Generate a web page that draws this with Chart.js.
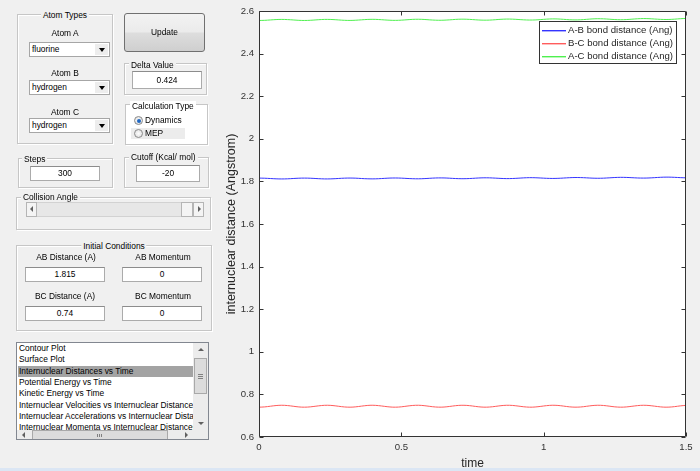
<!DOCTYPE html>
<html>
<head>
<meta charset="utf-8">
<script src="https://cdn.jsdelivr.net/npm/chart.js@4/dist/chart.umd.min.js"></script>
<style>
  html,body{margin:0;padding:0;}
  body{width:700px;height:471px;overflow:hidden;background:#f0f0f0;position:relative;
       font-family:"Liberation Sans",Arial,sans-serif;font-size:8.4px;color:#000;}
  #c{position:absolute;left:0;top:0;}
  .panel{position:absolute;border:1px solid #c6c6c6;box-shadow:inset 1px 1px 0 #fff,1px 1px 0 #fff;box-sizing:border-box;}
  .pt{position:absolute;top:-6px;line-height:11px;background:#f0f0f0;padding:0 2px;white-space:nowrap;}
  .ptc{left:50%;transform:translateX(-50%);}
  .lbl{position:absolute;line-height:11px;white-space:nowrap;transform:translateX(-50%);}
  .edit{position:absolute;background:#fff;border:1px solid #ababab;border-top-color:#8c8c8c;box-sizing:border-box;
        text-align:center;white-space:nowrap;}
  .dd{position:absolute;background:#fff;border:1px solid #a6a6a6;box-sizing:border-box;white-space:nowrap;padding-left:2px;}
  .dd .arr{position:absolute;right:1px;top:1px;bottom:1px;width:13px;background:#ededed;}
  .tri-d{position:absolute;width:0;height:0;border-left:3px solid transparent;border-right:3px solid transparent;border-top:4px solid #000;}
  .tri-u{position:absolute;width:0;height:0;border-left:3px solid transparent;border-right:3px solid transparent;border-bottom:3px solid #606060;}
  .tri-l{position:absolute;width:0;height:0;border-top:3px solid transparent;border-bottom:3px solid transparent;border-right:3px solid #606060;}
  .tri-r{position:absolute;width:0;height:0;border-top:3px solid transparent;border-bottom:3px solid transparent;border-left:3px solid #606060;}
  .btn{position:absolute;border:1px solid #707070;border-radius:3px;box-sizing:border-box;
       background:linear-gradient(#f2f2f2,#ebebeb 48%,#dddddd 52%,#cfcfcf);text-align:center;}
  .radio{position:absolute;width:9px;height:9px;border-radius:50%;border:1px solid #8a8a8a;box-sizing:border-box;
         background:radial-gradient(#fdfdfd,#dcdcdc);}
  .dot{position:absolute;left:1.5px;top:1.5px;width:4px;height:4px;border-radius:50%;background:#1f67c2;}
  .list{position:absolute;background:#fff;border:1px solid #828790;box-sizing:border-box;overflow:hidden;}
  .item{position:absolute;left:1px;height:11.3px;line-height:11.3px;white-space:nowrap;padding-left:1px;width:175px;overflow:hidden;}
  .sel{background:#a3a3a3;}
</style>
</head>
<body>
<canvas id="c" width="700" height="471"></canvas>

<!-- Atom Types -->
<div class="panel" style="left:17px;top:14px;width:96px;height:130px;"><span class="pt ptc" style="top:-5px;">Atom Types</span></div>
<div class="lbl" style="left:65px;top:28px;">Atom A</div>
<div class="dd" style="left:29px;top:42px;width:81px;height:15px;line-height:13px;">fluorine<div class="arr"><div class="tri-d" style="left:4px;top:4px;"></div></div></div>
<div class="lbl" style="left:65px;top:68px;">Atom B</div>
<div class="dd" style="left:29px;top:80px;width:81px;height:15px;line-height:13px;">hydrogen<div class="arr"><div class="tri-d" style="left:4px;top:4px;"></div></div></div>
<div class="lbl" style="left:65px;top:107px;">Atom C</div>
<div class="dd" style="left:29px;top:118px;width:81px;height:15px;line-height:13px;">hydrogen<div class="arr"><div class="tri-d" style="left:4px;top:4px;"></div></div></div>

<!-- Update -->
<div class="btn" style="left:124px;top:13px;width:81px;height:39px;line-height:37px;">Update</div>

<!-- Delta Value -->
<div class="panel" style="left:124px;top:63px;width:83px;height:32px;"><span class="pt" style="left:4px;top:-4px;">Delta Value</span></div>
<div class="edit" style="left:132px;top:71px;width:70px;height:18px;line-height:16px;">0.424</div>

<!-- Calculation Type -->
<div class="panel" style="left:125px;top:104px;width:83px;height:41px;background:#fff;"><span class="pt" style="left:4px;top:-4px;background:#fff;">Calculation Type</span></div>
<div class="radio" style="left:134px;top:116px;"><div class="dot"></div></div>
<div style="position:absolute;left:145px;top:115px;line-height:11px;">Dynamics</div>
<div style="position:absolute;left:131px;top:128px;width:54px;height:11px;background:#ececec;"></div>
<div class="radio" style="left:134px;top:129px;"></div>
<div style="position:absolute;left:145px;top:128px;line-height:11px;">MEP</div>

<!-- Steps -->
<div class="panel" style="left:18px;top:158px;width:95px;height:30px;"><span class="pt" style="left:3px;top:-5px;">Steps</span></div>
<div class="edit" style="left:30px;top:166px;width:70px;height:15px;line-height:13px;">300</div>

<!-- Cutoff -->
<div class="panel" style="left:124px;top:157px;width:85px;height:31px;"><span class="pt" style="left:4px;top:-6px;">Cutoff (Kcal/ mol)</span></div>
<div class="edit" style="left:136px;top:165px;width:64px;height:17px;line-height:15px;">-20</div>

<!-- Collision Angle -->
<div class="panel" style="left:16px;top:197px;width:195px;height:33px;"><span class="pt" style="left:4px;top:-6px;">Collision Angle</span></div>
<div style="position:absolute;left:26px;top:202px;width:178px;height:15px;background:#e7e7e7;border:1px solid #d2d2d2;box-sizing:border-box;"></div>
<div style="position:absolute;left:26px;top:202px;width:11px;height:15px;background:#f4f4f4;border:1px solid #b5b5b5;box-sizing:border-box;"><div class="tri-l" style="left:3px;top:3px;"></div></div>
<div style="position:absolute;left:181px;top:202px;width:12px;height:15px;background:#f4f4f4;border:1px solid #b5b5b5;box-sizing:border-box;"></div>
<div style="position:absolute;left:193px;top:202px;width:11px;height:15px;background:#f4f4f4;border:1px solid #b5b5b5;box-sizing:border-box;"><div class="tri-r" style="left:4px;top:3px;"></div></div>

<!-- Initial Conditions -->
<div class="panel" style="left:16px;top:245px;width:196px;height:86px;"><span class="pt ptc" style="top:-5px;">Initial Conditions</span></div>
<div class="lbl" style="left:66px;top:252px;">AB Distance (A)</div>
<div class="lbl" style="left:163px;top:252px;">AB Momentum</div>
<div class="edit" style="left:25px;top:267px;width:80px;height:15px;line-height:13px;">1.815</div>
<div class="edit" style="left:122px;top:267px;width:80px;height:15px;line-height:13px;">0</div>
<div class="lbl" style="left:65px;top:291px;">BC Distance (A)</div>
<div class="lbl" style="left:163px;top:291px;">BC Momentum</div>
<div class="edit" style="left:25px;top:306px;width:80px;height:15px;line-height:13px;">0.74</div>
<div class="edit" style="left:122px;top:306px;width:80px;height:15px;line-height:13px;">0</div>

<!-- List box -->
<div class="list" style="left:16px;top:342px;width:193px;height:98px;">
  <div class="item" style="top:0px;">Contour Plot</div>
  <div class="item" style="top:11.3px;">Surface Plot</div>
  <div class="item sel" style="top:22.6px;">Internuclear Distances vs Time</div>
  <div class="item" style="top:33.9px;">Potential Energy vs Time</div>
  <div class="item" style="top:45.2px;">Kinetic Energy vs Time</div>
  <div class="item" style="top:56.5px;">Internuclear Velocities vs Internuclear Distances</div>
  <div class="item" style="top:67.8px;">Internuclear Accelerations vs Internuclear Distances</div>
  <div class="item" style="top:79.1px;">Internuclear Momenta vs Internuclear Distances</div>
  <!-- vertical scrollbar -->
  <div style="position:absolute;left:176px;top:0;width:15px;height:87px;background:#ececec;"></div>
  <div class="tri-u" style="left:181px;top:5px;"></div>
  <div style="position:absolute;left:177px;top:15px;width:13px;height:36px;background:#dcdcdc;border:1px solid #a9a9a9;box-sizing:border-box;">
    <div style="position:absolute;left:3px;top:15px;width:5px;height:1px;background:#808080;box-shadow:0 2px 0 #808080,0 4px 0 #808080;"></div>
  </div>
  <div class="tri-d" style="left:181px;top:79px;border-top-color:#606060;border-top-width:3px;"></div>
  <!-- horizontal scrollbar -->
  <div style="position:absolute;left:0;top:87px;width:191px;height:10px;background:#ececec;"></div>
  <div class="tri-l" style="left:5px;top:89px;"></div>
  <div style="position:absolute;left:15px;top:87px;width:136px;height:10px;background:#dcdcdc;border:1px solid #a9a9a9;box-sizing:border-box;">
    <div style="position:absolute;left:64px;top:3px;width:1px;height:3px;background:#808080;box-shadow:2px 0 0 #808080,4px 0 0 #808080;"></div>
  </div>
  <div class="tri-r" style="left:168px;top:89px;"></div>
</div>

<div style="position:absolute;left:0;top:468px;width:700px;height:3px;background:#dbe6f4;"></div>

<script>
// ---------- data ----------
const xTicks = [0, 0.5, 1, 1.5];
const yTicks = [0.6, 0.8, 1, 1.2, 1.4, 1.6, 1.8, 2, 2.2, 2.4, 2.6];

const time = [0,0.02,0.04,0.06,0.08,0.1,0.12,0.14,0.16,0.18,0.2,0.22,0.24,0.26,0.28,0.3,0.32,0.34,0.36,0.38,
  0.4,0.42,0.44,0.46,0.48,0.5,0.52,0.54,0.56,0.58,0.6,0.62,0.64,0.66,0.68,0.7,0.72,0.74,0.76,0.78,
  0.8,0.82,0.84,0.86,0.88,0.9,0.92,0.94,0.96,0.98,1,1.02,1.04,1.06,1.08,1.1,1.12,1.14,1.16,1.18,
  1.2,1.22,1.24,1.26,1.28,1.3,1.32,1.34,1.36,1.38,1.4,1.42,1.44,1.46,1.48,1.5];

const abDistance = [1.8155,1.8149,1.8135,1.8121,1.8115,1.8121,1.8136,1.8150,1.8155,1.8149,
  1.8135,1.8121,1.8116,1.8123,1.8138,1.8152,1.8157,1.8151,1.8136,1.8123,
  1.8119,1.8126,1.8142,1.8156,1.8160,1.8153,1.8138,1.8126,1.8122,1.8131,
  1.8146,1.8160,1.8164,1.8157,1.8142,1.8130,1.8127,1.8135,1.8151,1.8165,
  1.8169,1.8161,1.8147,1.8134,1.8132,1.8142,1.8158,1.8172,1.8175,1.8166,
  1.8152,1.8141,1.8140,1.8150,1.8166,1.8179,1.8182,1.8174,1.8160,1.8149,
  1.8148,1.8159,1.8175,1.8188,1.8190,1.8181,1.8167,1.8157,1.8157,1.8168,
  1.8185,1.8198,1.8200,1.8191,1.8177,1.8167];

const bcDistance = [0.7400,0.7413,0.7445,0.7477,0.7490,0.7476,0.7444,0.7412,0.7400,0.7415,
  0.7447,0.7478,0.7490,0.7475,0.7442,0.7411,0.7400,0.7416,0.7449,0.7480,
  0.7490,0.7473,0.7440,0.7410,0.7400,0.7417,0.7451,0.7481,0.7490,0.7472,
  0.7438,0.7409,0.7401,0.7419,0.7453,0.7482,0.7489,0.7471,0.7437,0.7408,
  0.7401,0.7420,0.7454,0.7483,0.7489,0.7469,0.7435,0.7407,0.7401,0.7422,
  0.7456,0.7484,0.7489,0.7468,0.7433,0.7406,0.7402,0.7423,0.7458,0.7485,
  0.7488,0.7466,0.7431,0.7405,0.7402,0.7425,0.7459,0.7485,0.7487,0.7464,
  0.7430,0.7404,0.7403,0.7426,0.7461,0.7486];

const acDistance = [2.5555,2.5562,2.5580,2.5598,2.5605,2.5597,2.5580,2.5562,2.5555,2.5564,
  2.5582,2.5600,2.5606,2.5598,2.5580,2.5563,2.5557,2.5567,2.5585,2.5603,
  2.5609,2.5600,2.5582,2.5566,2.5560,2.5570,2.5589,2.5607,2.5612,2.5603,
  2.5584,2.5569,2.5565,2.5576,2.5595,2.5612,2.5616,2.5606,2.5588,2.5573,
  2.5570,2.5581,2.5601,2.5617,2.5621,2.5611,2.5593,2.5579,2.5576,2.5588,
  2.5608,2.5625,2.5629,2.5618,2.5599,2.5585,2.5584,2.5597,2.5618,2.5634,
  2.5636,2.5625,2.5606,2.5593,2.5592,2.5606,2.5626,2.5642,2.5644,2.5632,
  2.5615,2.5602,2.5603,2.5617,2.5638,2.5653];

const seriesLabels = ['A-B bond distance (Ang)', 'B-C bond distance (Ang)', 'A-C bond distance (Ang)'];
const seriesColors = ['#3434ff', '#ff5c5c', '#4ff04f'];

// ---------- chart ----------
Chart.defaults.font.family = '"Liberation Sans", Arial, sans-serif';
Chart.defaults.color = '#333';

const toXY = arr => arr.map((v, i) => ({x: time[i], y: v}));

const bgPlugin = {
  id: 'plotBg',
  beforeDraw(chart) {
    const {ctx, chartArea: a} = chart;
    ctx.save();
    ctx.fillStyle = '#f0f0f0';
    ctx.fillRect(0, 0, chart.width, chart.height);
    ctx.fillStyle = '#ffffff';
    ctx.fillRect(a.left, a.top, a.right - a.left, a.bottom - a.top);
    ctx.restore();
  }
};

const framePlugin = {
  id: 'frame',
  afterDatasetsDraw(chart) {
    const {ctx, chartArea: a, scales: {x, y}} = chart;
    const L = Math.round(a.left) + 0.5, R = Math.round(a.right) - 0.5;
    const T = Math.round(a.top) + 0.5, B = Math.round(a.bottom) - 0.5;
    ctx.save();
    ctx.strokeStyle = '#333';
    ctx.lineWidth = 1;
    ctx.beginPath();
    ctx.moveTo(L, T); ctx.lineTo(R, T); ctx.lineTo(R, B); ctx.lineTo(L, B); ctx.closePath();
    xTicks.forEach(v => {
      const px = Math.round(x.getPixelForValue(v)) + 0.5;
      ctx.moveTo(px, B); ctx.lineTo(px, B - 4);
      ctx.moveTo(px, T); ctx.lineTo(px, T + 4);
    });
    yTicks.forEach(v => {
      const py = Math.round(y.getPixelForValue(v)) + 0.5;
      ctx.moveTo(L, py); ctx.lineTo(L + 4, py);
      ctx.moveTo(R, py); ctx.lineTo(R - 4, py);
    });
    ctx.stroke();
    ctx.restore();
  }
};

const legendPlugin = {
  id: 'innerLegend',
  afterDraw(chart) {
    const {ctx} = chart;
    const bx = 539.5, by = 21.5, bw = 137, bh = 42;
    ctx.save();
    ctx.fillStyle = '#fff';
    ctx.fillRect(bx, by, bw, bh);
    ctx.strokeStyle = '#333';
    ctx.lineWidth = 1;
    ctx.strokeRect(bx, by, bw, bh);
    ctx.font = '9.6px "Liberation Sans", Arial, sans-serif';
    ctx.textBaseline = 'middle';
    chart.data.datasets.forEach((ds, i) => {
      const yy = 30 + i * 13;
      ctx.fillStyle = seriesColors[i];
      ctx.fillRect(542, yy, 24, 1.4);
      ctx.fillStyle = '#262626';
      ctx.fillText(ds.label, 568, yy + 0.5);
    });
    ctx.restore();
  }
};

new Chart(document.getElementById('c'), {
  type: 'line',
  data: {
    datasets: [
      {label: seriesLabels[0], data: toXY(abDistance), borderColor: seriesColors[0]},
      {label: seriesLabels[1], data: toXY(bcDistance), borderColor: seriesColors[1]},
      {label: seriesLabels[2], data: toXY(acDistance), borderColor: seriesColors[2]}
    ].map(d => Object.assign(d, {borderWidth: 1, pointRadius: 0, tension: 0.4, fill: false}))
  },
  options: {
    responsive: false,
    animation: false,
    devicePixelRatio: 1,
    layout: {padding: {left: 210, right: 14, top: 11, bottom: 0}},
    plugins: {legend: {display: false}, tooltip: {enabled: false}},
    scales: {
      x: {
        type: 'linear', min: 0, max: 1.5,
        afterBuildTicks: s => { s.ticks = xTicks.map(v => ({value: v})); },
        afterFit: s => { s.height = 34; },
        grid: {display: false, drawTicks: false},
        border: {display: false},
        ticks: {font: {size: 9.6}, color: '#333', padding: 5, maxRotation: 0, autoSkip: false, callback: v => String(v)},
        title: {display: true, text: 'time', font: {size: 12}, color: '#262626', padding: {top: 0, bottom: 0}}
      },
      y: {
        type: 'linear', min: 0.6, max: 2.6,
        afterBuildTicks: s => { s.ticks = yTicks.map(v => ({value: v})); },
        afterFit: s => { s.width = 49; },
        grid: {display: false, drawTicks: false},
        border: {display: false},
        ticks: {font: {size: 9.6}, color: '#333', padding: 5, autoSkip: false, callback: v => String(v)},
        title: {display: true, text: 'internuclear distance (Angstrom)', font: {size: 12.5}, color: '#262626', padding: {top: 14, bottom: 0}}
      }
    }
  },
  plugins: [bgPlugin, framePlugin, legendPlugin]
});
</script>
</body>
</html>
